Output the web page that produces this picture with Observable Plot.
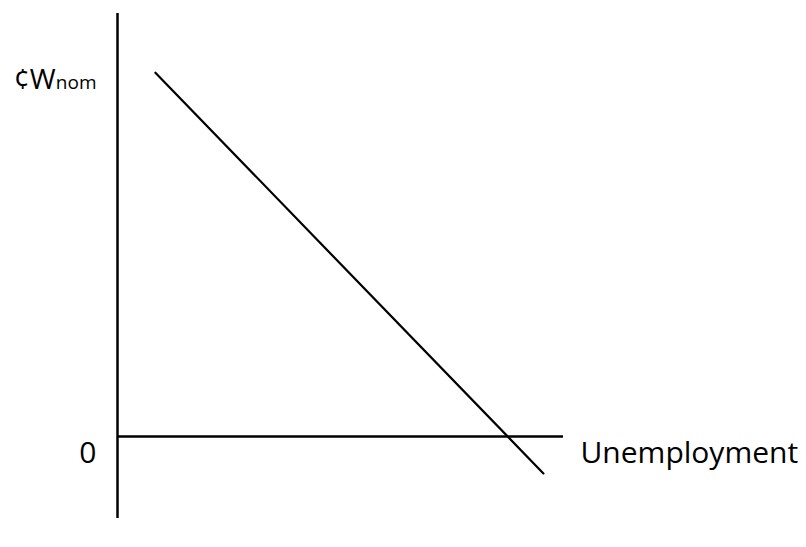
<!DOCTYPE html>
<html>
<head>
<meta charset="utf-8">
<script src="https://cdn.jsdelivr.net/npm/d3@7"></script>
<script src="https://cdn.jsdelivr.net/npm/@observablehq/plot@0.6"></script>
<style>
  html, body { margin: 0; padding: 0; background: #fff; }
</style>
</head>
<body>
<div id="chart"></div>
<script>
// Wage-change curve endpoints (x = unemployment, y = nominal wage change)
const curveX = [8.5, 95.5];
const curveY = [86, -8.75];
// Axis extents
const xAxisExtent = [0, 100];
const yAxisExtent = [-19.4, 100];
// Labels
const yLabelMain = "¢W";
const yLabelSub = "nom";
const zeroLabel = "0";
const xLabel = "Unemployment";

const curve = curveX.map((x, i) => ({x, y: curveY[i]}));

const chart = Plot.plot({
  width: 806,
  height: 547,
  marginLeft: 117,
  marginRight: 243,
  marginTop: 13,
  marginBottom: 29,
  style: {fontFamily: "'Open Sans', sans-serif", color: "#000", background: "#fff"},
  x: {domain: xAxisExtent, axis: null},
  y: {domain: yAxisExtent, axis: null},
  marks: [
    Plot.ruleX([{x: 0, y1: yAxisExtent[0], y2: yAxisExtent[1]}], {x: "x", y1: "y1", y2: "y2", stroke: "#000", strokeWidth: 2.5}),
    Plot.ruleY([{y: 0, x1: xAxisExtent[0], x2: xAxisExtent[1]}], {y: "y", x1: "x1", x2: "x2", stroke: "#000", strokeWidth: 2.5}),
    Plot.line(curve, {x: "x", y: "y", stroke: "#000", strokeWidth: 2.2}),
    Plot.text([{x: 0, y: 0, t: zeroLabel}], {x: "x", y: "y", text: "t", textAnchor: "end", dx: -21, dy: 17, fontSize: 30, fill: "#000"}),
    Plot.text([{x: xAxisExtent[1], y: 0, t: xLabel}], {x: "x", y: "y", text: "t", textAnchor: "start", dx: 17, dy: 17, fontSize: 30, fill: "#000"}),
    Plot.text([{x: 0, y: curveY[0], t: yLabelMain}], {x: "x", y: "y", text: "t", textAnchor: "end", dx: -62, dy: 7, fontSize: 28, fill: "#000"}),
    Plot.text([{x: 0, y: curveY[0], t: yLabelSub}], {x: "x", y: "y", text: "t", textAnchor: "end", dx: -21, dy: 10, fontSize: 19, fill: "#000"})
  ]
});
document.getElementById("chart").appendChild(chart);
</script>
</body>
</html>
